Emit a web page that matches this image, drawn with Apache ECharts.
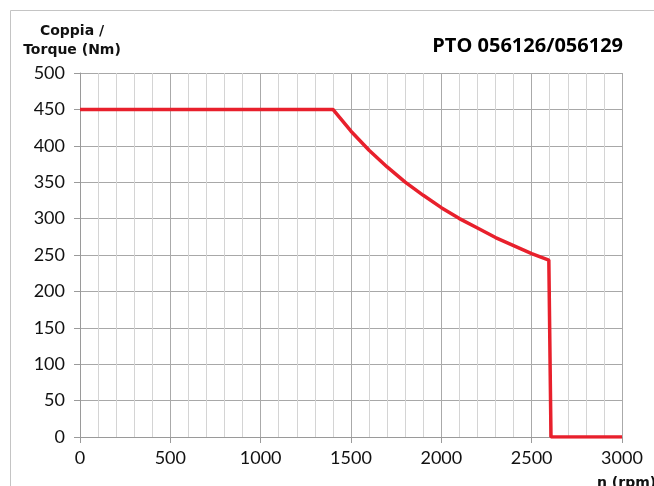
<!DOCTYPE html>
<html>
<head>
<meta charset="utf-8">
<script src="https://cdn.jsdelivr.net/npm/echarts@6/dist/echarts.min.js"></script>
<style>html,body{margin:0;padding:0;background:#fff}#c{width:654px;height:486px}</style>
</head>
<body>
<div id="c"></div>
<script>
const rpm    = [0, 1400, 1500, 1600, 1700, 1800, 1900, 2000, 2100, 2200, 2300, 2400, 2500, 2595, 2607, 3000];
const torque = [450, 450, 420, 394, 371, 350, 332, 315, 300, 287, 274, 263, 252, 243, 0, 0];
const titleText = 'PTO 056126/056129';
const yName = 'Coppia /\nTorque (Nm)';
const xName = 'n (rpm)';

const chart = echarts.init(document.getElementById('c'), null, {renderer: 'canvas'});
const labelFont = {fontFamily: 'Lato, "DejaVu Sans", sans-serif', fontSize: 18, color: '#111'};
chart.setOption({
  animation: false,
  backgroundColor: '#fff',
  graphic: [
    {type: 'rect', shape: {x: 10.5, y: 10.5, width: 700, height: 600}, style: {fill: 'none', stroke: '#c4c4c4', lineWidth: 1}, silent: true},
    {type: 'text', left: 22, top: 22, style: {text: yName, textAlign: 'center', fontFamily: '"DejaVu Sans", sans-serif', fontWeight: 'bold', fontSize: 14, lineHeight: 19, fill: '#111', width: 100, align: 'center'}},
  ],
  title: [
    {text: titleText, right: 26, top: 31, textStyle: {fontFamily: '"Open Sans", sans-serif', fontWeight: 'bold', fontSize: 20, color: '#000'}},
    {text: xName, left: 592, top: 471, textStyle: {fontFamily: '"DejaVu Sans", sans-serif', fontWeight: 'bold', fontSize: 14, color: '#111'}}
  ],
  grid: {left: 80, right: 32, top: 73, bottom: 49, containLabel: false},
  xAxis: {
    type: 'value', min: 0, max: 3000, interval: 500,
    axisLine: {show: true, lineStyle: {color: '#9a9a9a', width: 1}},
    axisTick: {show: true, length: 6, lineStyle: {color: '#9a9a9a'}},
    axisLabel: Object.assign({margin: 12, formatter: v => String(v)}, labelFont),
    splitLine: {show: true, lineStyle: {color: '#aaaaaa', width: 1}},
    minorTick: {show: false, splitNumber: 5},
    minorSplitLine: {show: true, lineStyle: {color: '#d4d4d4', width: 1}}
  },
  yAxis: {
    type: 'value', min: 0, max: 500, interval: 50,
    axisLine: {show: true, lineStyle: {color: '#9a9a9a', width: 1}},
    axisTick: {show: true, length: 6, lineStyle: {color: '#9a9a9a'}},
    axisLabel: Object.assign({margin: 15, formatter: v => String(v)}, labelFont),
    splitLine: {show: true, lineStyle: {color: '#a8a8a8', width: 1}}
  },
  series: [{
    type: 'line',
    data: rpm.map((r, i) => [r, torque[i]]),
    symbol: 'none',
    lineStyle: {color: '#e8202c', width: 3.5},
    z: 5
  }]
});
</script>
</body>
</html>
